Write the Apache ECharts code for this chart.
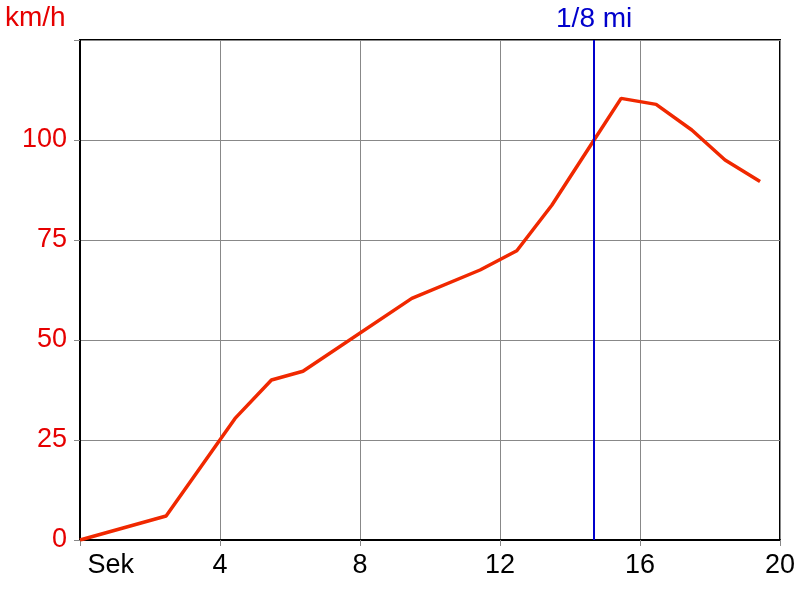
<!DOCTYPE html>
<html>
<head>
<meta charset="utf-8">
<script src="https://cdn.jsdelivr.net/npm/echarts@6/dist/echarts.min.js"></script>
<style>html,body{margin:0;padding:0;background:#fff}#c{width:800px;height:600px}</style>
</head>
<body>
<div id="c"></div>
<script>
// Data
var timeSec = [0, 2.46, 4.43, 5.47, 6.37, 9.48, 11.43, 12.48, 13.48, 14.6, 15.46, 16.46, 17.48, 18.43, 19.43];
var speedKmh = [0, 6, 30.4, 40, 42.2, 60.4, 67.5, 72.3, 83.7, 98.8, 110.4, 108.9, 102.5, 95, 89.6];
var eighthMileTime = 14.69;
var eighthMileLabel = '1/8 mi';
var xAxisStartLabel = 'Sek';
var yUnitLabel = 'km/h';
var yTicks = [0, 25, 50, 75, 100, 125];
var xTicks = [0, 4, 8, 12, 16, 20];

var pts = timeSec.map(function (t, i) { return [t, speedKmh[i]]; });
var FONT = '"Liberation Sans", Arial, sans-serif';
var chart = echarts.init(document.getElementById('c'), null, { renderer: 'canvas' });
chart.setOption({
  animation: false,
  backgroundColor: '#fff',
  title: {
    text: yUnitLabel, left: 5, top: 4, padding: 0,
    textStyle: { color: '#e60000', fontSize: 28, fontWeight: 'normal', fontFamily: FONT }
  },
  grid: { left: 80, right: 20, top: 40, bottom: 60, show: true, borderColor: '#000', borderWidth: 2, backgroundColor: 'transparent' },
  xAxis: {
    type: 'value', min: xTicks[0], max: xTicks[xTicks.length - 1], interval: 4,
    axisLine: { show: true, lineStyle: { color: '#000', width: 2 } },
    axisTick: { show: true, length: 6, lineStyle: { color: '#888' } },
    splitLine: { show: true, lineStyle: { color: '#888', width: 1 } },
    axisLabel: {
      color: '#000', fontSize: 27, fontFamily: FONT, margin: 12, alignMinLabel: 'left',
      formatter: function (v) { return v === 0 ? ' ' + xAxisStartLabel : String(v); }
    }
  },
  yAxis: {
    type: 'value', min: yTicks[0], max: yTicks[yTicks.length - 1], interval: 25,
    axisLine: { show: true, lineStyle: { color: '#000', width: 2 } },
    axisTick: { show: true, length: 6, lineStyle: { color: '#888' } },
    splitLine: { show: true, lineStyle: { color: '#888', width: 1 } },
    axisLabel: {
      color: '#e60000', fontSize: 27, fontFamily: FONT, margin: 13,
      formatter: function (v) { return v === 125 ? '' : String(v); }
    }
  },
  series: [{
    type: 'line', data: pts, symbol: 'none', smooth: false,
    lineStyle: { color: '#f02800', width: 3.5 },
    markLine: {
      silent: true, symbol: 'none', animation: false,
      lineStyle: { color: '#0000cc', width: 2, type: 'solid' },
      label: { show: true, position: 'end', formatter: eighthMileLabel, color: '#0000cc', fontSize: 28, fontFamily: FONT, distance: 7 },
      data: [{ xAxis: eighthMileTime }]
    }
  }]
});
</script>
</body>
</html>
